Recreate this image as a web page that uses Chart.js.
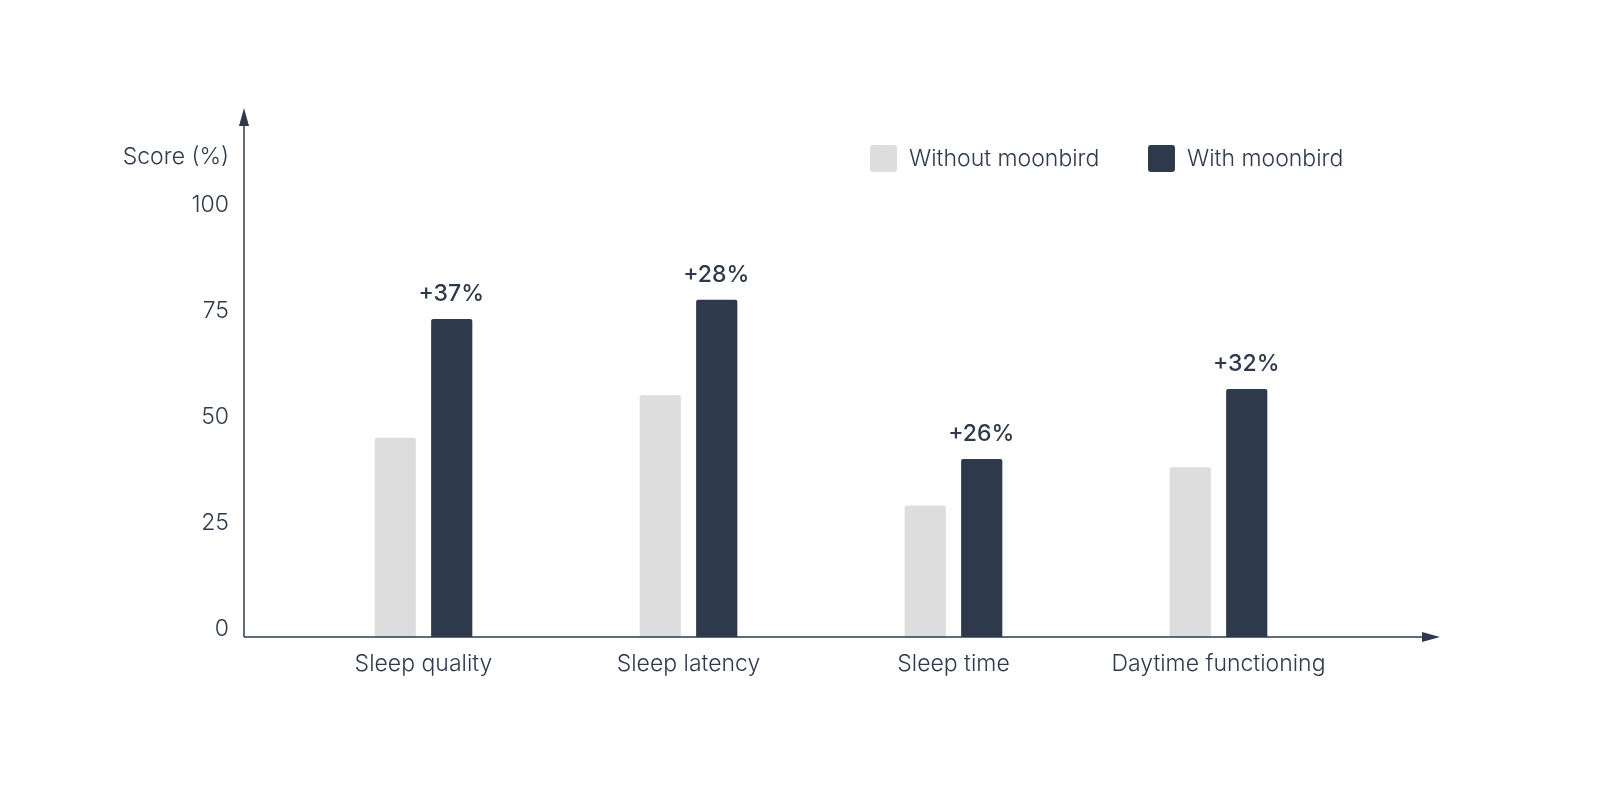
<!DOCTYPE html>
<html><head><meta charset="utf-8">
<script src="https://cdn.jsdelivr.net/npm/chart.js@4"></script>
<style>html,body{margin:0;padding:0;background:#fff;}#c{display:block;}</style>
</head><body>
<canvas id="c" width="1600" height="797"></canvas>
<script>
const categories = ["Sleep quality","Sleep latency","Sleep time","Daytime functioning"];
const withoutValues = [47, 57, 31, 40];
const withValues = [75, 79.5, 42, 58.5];
const gainLabels = ["+37%","+28%","+26%","+32%"];
const yTicks = [0,25,50,75,100];
const seriesNames = ["Without moonbird","With moonbird"];
const LIGHT="#dddddd", DARK="#2e3a4b", TEXT="#2e3a4b";
const FONT="Inter, 'Noto Sans', sans-serif";

const drawPlugin = {
  id:'custom',
  afterDraw(chart){
    const ctx=chart.ctx, y=chart.scales.y, x=chart.scales.x;
    const ax=244, ay=y.getPixelForValue(0);
    ctx.save();
    ctx.strokeStyle=DARK; ctx.fillStyle=DARK; ctx.lineWidth=1.5;
    ctx.beginPath(); ctx.moveTo(ax,ay); ctx.lineTo(ax,122); ctx.stroke();
    ctx.beginPath(); ctx.moveTo(ax,108); ctx.lineTo(ax-5,126); ctx.lineTo(ax+5,126); ctx.closePath(); ctx.fill();
    ctx.beginPath(); ctx.moveTo(ax,ay); ctx.lineTo(1424,ay); ctx.stroke();
    ctx.beginPath(); ctx.moveTo(1440,ay); ctx.lineTo(1422,ay-5); ctx.lineTo(1422,ay+5); ctx.closePath(); ctx.fill();
    ctx.fillStyle=TEXT; ctx.font="300 23px "+FONT;
    ctx.textAlign="right"; ctx.textBaseline="middle";
    yTicks.forEach(v=>ctx.fillText(String(v),229,y.getPixelForValue(v)-8));
    ctx.fillText("Score (%)",229,157);
    ctx.textAlign="center";
    categories.forEach((c,i)=>ctx.fillText(c,x.getPixelForValue(i),664));
    const meta=chart.getDatasetMeta(1);
    ctx.font="500 23px "+FONT; ctx.textBaseline="alphabetic";
    meta.data.forEach((b,i)=>ctx.fillText(gainLabels[i],b.x-0.5,b.y-18));
    ctx.font="300 23px "+FONT; ctx.textAlign="left"; ctx.textBaseline="middle";
    const leg=[[870,LIGHT,seriesNames[0]],[1148,DARK,seriesNames[1]]];
    leg.forEach(([lx,col,t])=>{
      ctx.fillStyle=col; ctx.beginPath(); ctx.roundRect(lx,145,27,27,3); ctx.fill();
      ctx.fillStyle=TEXT; ctx.fillText(t,lx+39,159);
    });
    ctx.restore();
  }
};

new Chart(document.getElementById('c'),{
  type:'bar',
  data:{labels:categories,datasets:[
    {label:seriesNames[0],data:withoutValues,backgroundColor:LIGHT,borderRadius:2,borderSkipped:'bottom'},
    {label:seriesNames[1],data:withValues,backgroundColor:DARK,borderRadius:2,borderSkipped:'bottom'}
  ]},
  options:{
    responsive:false,animation:false,devicePixelRatio:1,
    layout:{padding:{left:291,right:249,top:112,bottom:160}},
    categoryPercentage:0.426,barPercentage:0.73,
    plugins:{legend:{display:false},tooltip:{enabled:false}},
    scales:{
      x:{display:false,offset:true},
      y:{display:false,min:0,max:123.8}
    }
  },
  plugins:[drawPlugin]
});
</script>
</body></html>
